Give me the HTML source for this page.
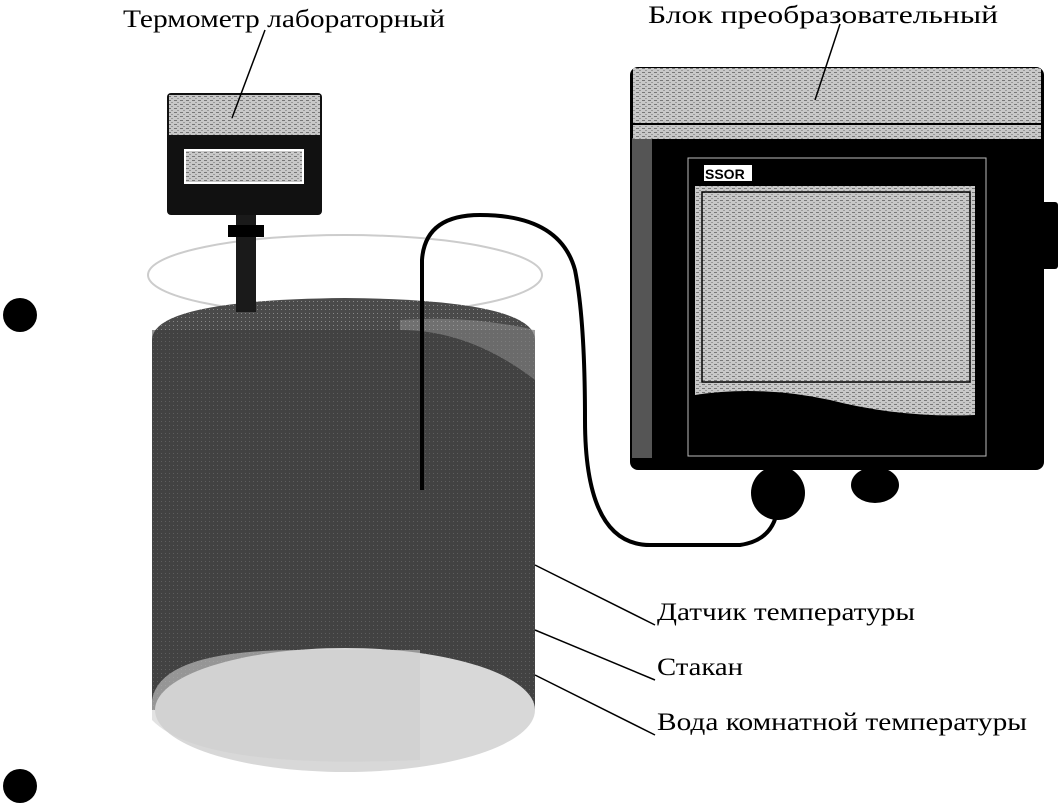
<!DOCTYPE html>
<html><head><meta charset="utf-8"><style>
html,body{margin:0;padding:0;background:#fff;}
svg{display:block;}
text{font-family:"Liberation Serif",serif;font-size:25px;fill:#000;}
</style></head><body>
<svg width="1060" height="806" viewBox="0 0 1060 806" xmlns="http://www.w3.org/2000/svg">
<defs>
<pattern id="lt" width="6" height="4" patternUnits="userSpaceOnUse">
<rect width="6" height="4" fill="#c8c8c8"/><rect x="0" y="0" width="3" height="1" fill="#777"/><rect x="3" y="2" width="2" height="1" fill="#999"/>
</pattern>
<pattern id="dk" width="4" height="4" patternUnits="userSpaceOnUse">
<rect width="4" height="4" fill="#4a4a4a"/><rect x="1" y="1" width="1" height="1" fill="#888"/>
</pattern>
</defs>
<circle cx="20" cy="315" r="17" fill="#000"/>
<circle cx="20" cy="786" r="17" fill="#000"/>
<ellipse cx="345" cy="275" rx="197" ry="40" fill="none" stroke="#ccc" stroke-width="2"/>
<path d="M152 340 Q152 300 345 298 Q535 300 535 340 L535 710 L152 710 Z" fill="url(#dk)"/>
<rect x="152" y="330" width="383" height="380" fill="#3c3c3c" opacity="0.55"/>
<ellipse cx="345" cy="710" rx="190" ry="62" fill="#d8d8d8"/>
<path d="M152 700 Q160 650 300 650 L420 650 L420 760 Q200 770 152 720 Z" fill="#cfcfcf" opacity="0.6"/>
<path d="M400 320 Q470 315 535 330 L535 380 Q470 330 400 330Z" fill="#aaa" opacity="0.4"/>
<path d="M422 490 L422 260 Q425 215 480 215 Q560 215 575 270 Q585 320 585 420 Q585 545 650 545 L740 545 Q775 540 778 505" fill="none" stroke="#000" stroke-width="4"/>
<rect x="236" y="212" width="20" height="100" fill="#1a1a1a"/>
<rect x="228" y="225" width="36" height="12" fill="#000"/>
<rect x="167" y="93" width="155" height="122" rx="4" fill="#111"/>
<rect x="169" y="95" width="151" height="40" fill="url(#lt)"/>
<rect x="185" y="150" width="118" height="33" fill="url(#lt)" stroke="#fff" stroke-width="2"/>
<ellipse cx="778" cy="493" rx="27" ry="27" fill="#000"/>
<ellipse cx="875" cy="485" rx="24" ry="18" fill="#000"/>
<rect x="1035" y="202" width="23" height="67" rx="3" fill="#000"/>
<rect x="630" y="67" width="414" height="403" rx="8" fill="#000"/>
<rect x="632" y="138" width="20" height="320" fill="#555"/>
<rect x="633" y="68" width="408" height="71" fill="url(#lt)"/>
<line x1="633" y1="124" x2="1041" y2="124" stroke="#000" stroke-width="2"/>
<rect x="688" y="158" width="298" height="298" fill="none" stroke="#bbb" stroke-width="1"/>
<path d="M695 186 L975 186 L975 415 Q900 418 830 400 Q760 385 695 395 Z" fill="url(#lt)"/>
<rect x="702" y="192" width="268" height="190" fill="none" stroke="#000" stroke-width="1.5"/>
<rect x="704" y="165" width="48" height="16" fill="#fff"/>
<text x="705" y="179" style="font-family:'Liberation Sans',sans-serif;font-size:14px;font-weight:bold">SSOR</text>
<line x1="232" y1="118" x2="265" y2="30" stroke="#000" stroke-width="1.5"/>
<line x1="815" y1="100" x2="840" y2="24" stroke="#000" stroke-width="1.5"/>
<line x1="535" y1="565" x2="655" y2="625" stroke="#000" stroke-width="1.5"/>
<line x1="535" y1="630" x2="655" y2="680" stroke="#000" stroke-width="1.5"/>
<line x1="535" y1="675" x2="655" y2="735" stroke="#000" stroke-width="1.5"/>
<text x="123" y="27" textLength="322" lengthAdjust="spacingAndGlyphs">Термометр лабораторный</text>
<text x="648" y="23" textLength="350" lengthAdjust="spacingAndGlyphs">Блок преобразовательный</text>
<text x="657" y="620" textLength="258" lengthAdjust="spacingAndGlyphs">Датчик температуры</text>
<text x="657" y="675" textLength="86" lengthAdjust="spacingAndGlyphs">Стакан</text>
<text x="657" y="730" textLength="370" lengthAdjust="spacingAndGlyphs">Вода комнатной температуры</text>
</svg>
</body></html>
